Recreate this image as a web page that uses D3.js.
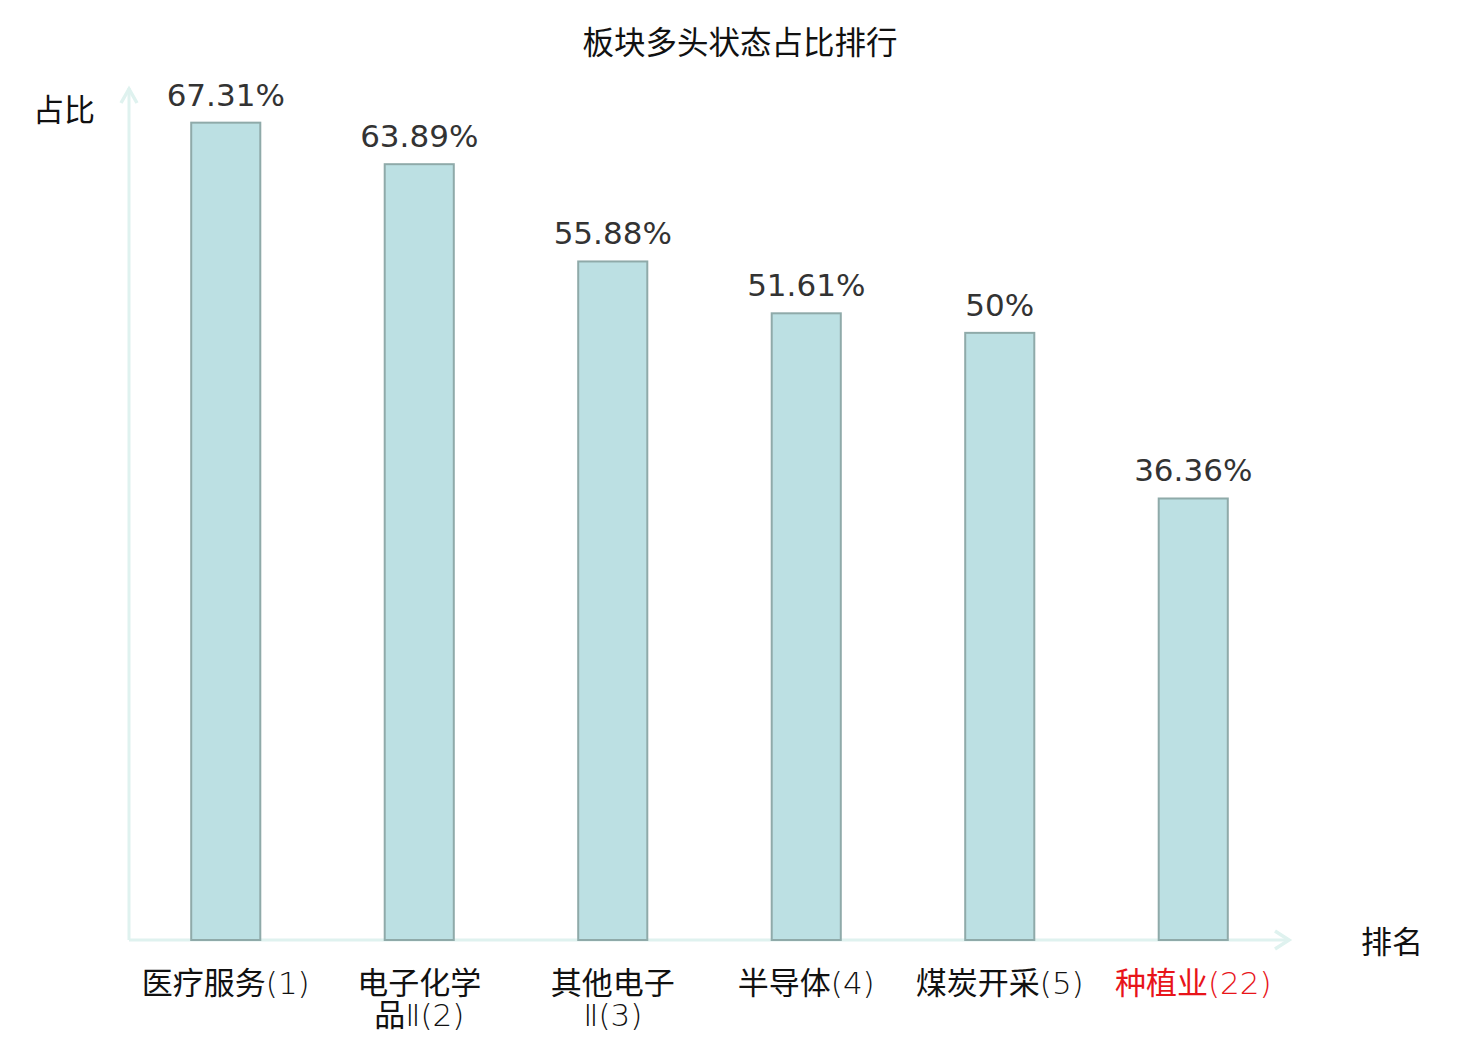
<!DOCTYPE html>
<html>
<head>
<meta charset="utf-8">
<script src="https://cdn.jsdelivr.net/npm/d3@7"></script>
<style>
  body { margin: 0; background: #fff; }
</style>
</head>
<body>
<div id="chart"></div>
<script>
// data
let categories = ['医疗服务', '电子化学品Ⅱ', '其他电子Ⅱ', '半导体', '煤炭开采', '种植业']
let ranks = [1, 2, 3, 4, 5, 22]
let values = [67.31, 63.89, 55.88, 51.61, 50, 36.36]
let valueLabels = ['67.31%', '63.89%', '55.88%', '51.61%', '50%', '36.36%']
let highlight = ['种植业']

let width = 1480
let height = 1040
let cjk = '"Noto Sans CJK SC", sans-serif'

let svg = d3.select('#chart').append('svg')
    .attr('width', width)
    .attr('height', height)

let x = d3.scaleBand()
    .domain(categories)
    .range([129, 1290])
    .paddingInner(0.643)
    .paddingOuter(0.3215)

let y = d3.scaleLinear()
    .domain([0, 70])
    .range([940, 90])

let axisColor = '#dff2ef'

// y axis with arrow
svg.append('line')
    .attr('x1', 129).attr('x2', 129)
    .attr('y1', y(0)).attr('y2', y(70) - 2)
    .attr('stroke', axisColor)
    .attr('stroke-width', 3)
svg.append('path')
    .attr('d', `M${129 - 8},${y(70) + 13} L129,${y(70) - 1} L${129 + 8},${y(70) + 13}`)
    .attr('fill', 'none')
    .attr('stroke', axisColor)
    .attr('stroke-width', 3.5)

// x axis with arrow
svg.append('line')
    .attr('x1', 129).attr('x2', 1289)
    .attr('y1', y(0)).attr('y2', y(0))
    .attr('stroke', axisColor)
    .attr('stroke-width', 3)
svg.append('path')
    .attr('d', `M1275,${y(0) - 9} L1289,${y(0)} L1275,${y(0) + 9}`)
    .attr('fill', 'none')
    .attr('stroke', axisColor)
    .attr('stroke-width', 3.5)

// bars
svg.append('g')
    .selectAll('rect')
    .data(categories)
    .enter()
    .append('rect')
        .attr('x', d => x(d))
        .attr('y', (d, i) => y(values[i]))
        .attr('width', x.bandwidth())
        .attr('height', (d, i) => y(0) - y(values[i]))
        .attr('fill', '#bce0e3')
        .attr('stroke', '#8faaa9')
        .attr('stroke-width', 2)

// value labels
svg.append('g')
    .selectAll('text')
    .data(categories)
    .enter()
    .append('text')
        .attr('x', d => x(d) + x.bandwidth() / 2)
        .attr('y', (d, i) => y(values[i]) - 17)
        .attr('text-anchor', 'middle')
        .attr('font-family', '"DejaVu Sans", sans-serif')
        .attr('font-size', 31)
        .attr('fill', '#333')
        .text((d, i) => valueLabels[i])

// category labels: names longer than 4 chars wrap after the 4th
function splitLabel(name, rank) {
    let full = name + '(' + rank + ')'
    if (name.length <= 4) return [full]
    return [full.slice(0, 4), full.slice(4)]
}

function addRun(textEl, str) {
    // CJK part in regular weight, the rest in thin DejaVu
    let m = str.match(/^([^\(Ⅱ]*)(.*)$/)
    if (m[1]) textEl.append('tspan').text(m[1])
    if (m[2]) textEl.append('tspan')
        .attr('font-family', '"DejaVu Sans", sans-serif')
        .attr('font-weight', 200)
        .text(m[2])
}

let labels = svg.append('g')
categories.forEach((name, i) => {
    let lines = splitLabel(name, ranks[i])
    lines.forEach((line, j) => {
        let t = labels.append('text')
            .attr('x', x(name) + x.bandwidth() / 2)
            .attr('y', 994 + j * 32)
            .attr('text-anchor', 'middle')
            .attr('font-family', cjk)
            .attr('font-size', 31)
            .attr('fill', highlight.includes(name) ? '#e8141a' : '#111')
        addRun(t, line)
    })
})

// titles
svg.append('text')
    .attr('x', 740)
    .attr('y', 54)
    .attr('text-anchor', 'middle')
    .attr('font-family', cjk)
    .attr('font-size', 31.5)
    .attr('fill', '#111')
    .text('板块多头状态占比排行')

svg.append('text')
    .attr('x', 33)
    .attr('y', 121)
    .attr('font-family', cjk)
    .attr('font-size', 31)
    .attr('fill', '#111')
    .text('占比')

svg.append('text')
    .attr('x', 1361)
    .attr('y', 953)
    .attr('font-family', cjk)
    .attr('font-size', 31)
    .attr('fill', '#111')
    .text('排名')
</script>
</body>
</html>
